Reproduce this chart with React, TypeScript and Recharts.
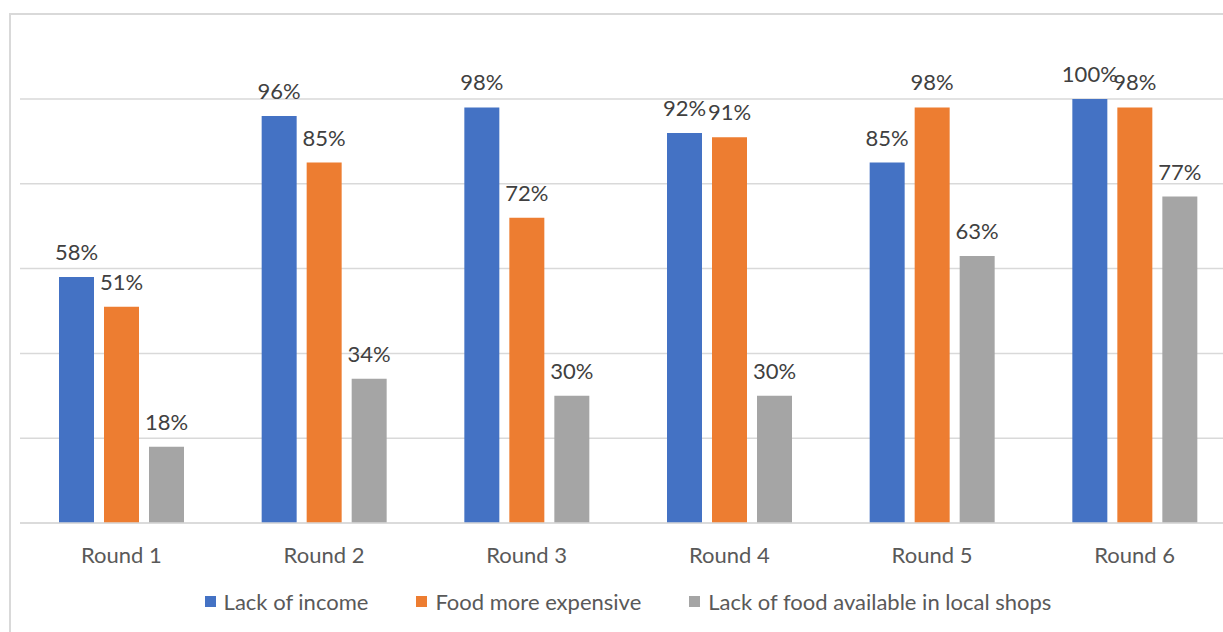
import React from 'react';
import { BarChart, Bar, XAxis, YAxis, CartesianGrid, Legend, LabelList } from 'recharts';

const categories = ['Round 1', 'Round 2', 'Round 3', 'Round 4', 'Round 5', 'Round 6'];
const lackOfIncome = [58, 96, 98, 92, 85, 100];
const foodMoreExpensive = [51, 85, 72, 91, 98, 98];
const lackOfFood = [18, 34, 30, 30, 63, 77];
const yTicks = [0, 20, 40, 60, 80, 100];

const seriesNames = ['Lack of income', 'Food more expensive', 'Lack of food available in local shops'];
const seriesColors = ['#4472C4', '#ED7D31', '#A5A5A5'];

const data = categories.map((c, i) => ({
  name: c,
  income: lackOfIncome[i],
  expensive: foodMoreExpensive[i],
  shops: lackOfFood[i],
}));

const FONT = "Lato, 'Noto Sans', sans-serif";

const renderLegend = (props: any) => {
  const payload = [...(props.payload || [])].sort(
    (a: any, b: any) => seriesNames.indexOf(a.value) - seriesNames.indexOf(b.value)
  );
  return (
    <div
      style={{
        display: 'flex',
        justifyContent: 'center',
        alignItems: 'center',
        height: 30,
        fontFamily: FONT,
        fontSize: 22,
        color: '#595959',
      }}
    >
      {payload.map((e: any, i: number) => (
        <div key={i} style={{ display: 'flex', alignItems: 'center', marginLeft: i ? 48 : 0 }}>
          <span style={{ display: 'inline-block', width: 11, height: 11, background: e.color, marginRight: 8 }} />
          <span>{e.value}</span>
        </div>
      ))}
    </div>
  );
};

const fmt = (v: any) => `${v}%`;

export default function App() {
  return (
    <div style={{ position: 'fixed', left: 0, top: 0, width: 1223, height: 632, overflow: 'hidden', background: '#fff' }}>
      <div
        style={{
          position: 'absolute',
          left: 9,
          top: 13,
          width: 1300,
          height: 700,
          border: '2px solid #d9d9d9',
          boxSizing: 'border-box',
        }}
      />
      <div style={{ position: 'absolute', left: 0, top: 0 }}>
        <BarChart
          width={1260}
          height={632}
          data={data}
          margin={{ top: 99, right: 24, left: 20, bottom: 16 }}
          barSize={35}
          barGap={10}
        >
          <CartesianGrid vertical={false} stroke="#d9d9d9" strokeWidth={1.5} />
          <XAxis
            dataKey="name"
            height={63}
            axisLine={{ stroke: '#d9d9d9', strokeWidth: 1.5 }}
            tickLine={false}
            tickMargin={18}
            tick={{ fill: '#595959', fontSize: 22, fontFamily: FONT }}
          />
          <YAxis hide domain={[0, 100]} ticks={yTicks} />
          <Legend verticalAlign="bottom" content={renderLegend} />
          <Bar dataKey="income" name={seriesNames[0]} fill={seriesColors[0]} isAnimationActive={false}>
            <LabelList dataKey="income" position="top" offset={17} formatter={fmt} fill="#404040" fontSize={22} fontFamily={FONT} />
          </Bar>
          <Bar dataKey="expensive" name={seriesNames[1]} fill={seriesColors[1]} isAnimationActive={false}>
            <LabelList dataKey="expensive" position="top" offset={17} formatter={fmt} fill="#404040" fontSize={22} fontFamily={FONT} />
          </Bar>
          <Bar dataKey="shops" name={seriesNames[2]} fill={seriesColors[2]} isAnimationActive={false}>
            <LabelList dataKey="shops" position="top" offset={17} formatter={fmt} fill="#404040" fontSize={22} fontFamily={FONT} />
          </Bar>
        </BarChart>
      </div>
    </div>
  );
}
